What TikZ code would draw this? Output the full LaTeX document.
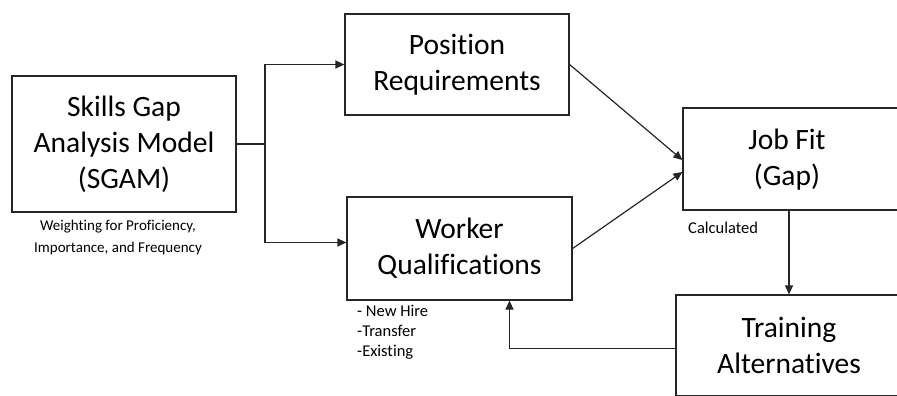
\documentclass[tikz,border=0pt]{standalone}
\usepackage{fontspec}
\setmainfont[Ligatures={NoCommon,NoDiscretionary}]{Carlito}
\usepackage{tikz}
\usetikzlibrary{positioning,calc,arrows.meta}

\begin{document}
\begin{tikzpicture}[x=1pt,y=-1pt,
    box/.style={draw=black!85, line width=1.2pt, align=center, inner sep=0pt,
        font=\fontsize{29.5}{36}\selectfont},
    note/.style={align=left, inner sep=0pt, font=\fontsize{15}{22}\selectfont},
    flow/.style={draw=black!85, line width=1.2pt, -{Triangle[length=9pt,width=8pt]}}]
    \useasboundingbox (0,0) rectangle (897,396);
    \clip (0,0) rectangle (897,396);
    % boxes
    \node[box, minimum width=224pt, minimum height=136pt] (sgam) at (124,144)
        {Skills Gap\\Analysis Model\\(SGAM)};
    \node[box, minimum width=224pt, minimum height=101pt] (pos) at (457,64.5)
        {Position\\Requirements};
    \node[box, minimum width=225pt, minimum height=103pt] (work) at (459.5,248.5)
        {Worker\\Qualifications};
    \node[box, minimum width=222pt, minimum height=102pt] (jobfit) at (794,159) {};
    \node[align=center, font=\fontsize{29.5}{36}\selectfont] (jobfittxt) at (787,160)
        {Job Fit\\(Gap)};
    \node[box, minimum width=226pt, minimum height=101pt] (train) at (789,345.5)
        {Training\\Alternatives};
    % notes
    \node[note, align=center] (weight) at (118,237)
        {Weighting for Proficiency,\\Importance, and Frequency};
    \node[note, anchor=west, font=\fontsize{16.5}{20}\selectfont] (hire) at (357,332)
        {- New Hire\\-Transfer\\-Existing};
    \node[note, anchor=west, font=\fontsize{16.5}{20}\selectfont] (calc) at (688,228) {Calculated};
    % connectors
    \coordinate (split) at (265,144);
    \draw[draw=black!85, line width=1.2pt] (sgam.east) -- (split);
    \draw[flow] (split) |- (pos.west);
    \draw[flow] (split) |- ([yshift=6pt]work.west);
    \draw[flow] (pos.east) -- ([yshift=-1pt]jobfit.west);
    \draw[flow] (work.east) -- ([yshift=-13pt]jobfit.west);
    \draw[flow] (train.north |- jobfit.south) -- (train.north);
    \draw[flow] ([yshift=-3pt]train.west) -| ([xshift=50pt]work.south);
\end{tikzpicture}
\end{document}
